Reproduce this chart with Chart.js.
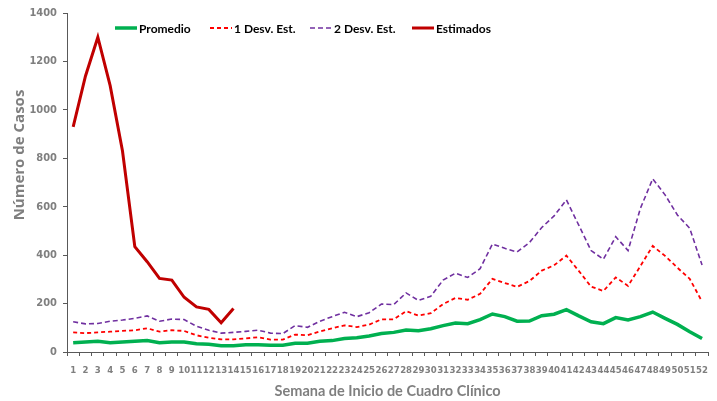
<!DOCTYPE html>
<html lang="es">

<head>
  <meta charset="UTF-8">
  <title>Casos por semana</title>
  <script src="https://cdn.jsdelivr.net/npm/chart.js"></script>
  <style>
    html, body { margin: 0; padding: 0; background: #ffffff; }
    #wrap { width: 717px; height: 401px; }
  </style>
</head>

<body>
  <div id="wrap"><canvas id="casosChart" width="717" height="401"></canvas></div>

  <script>
    // Semanas 1..52
    const semanas = ['1','2','3','4','5','6','7','8','9','10','11','12','13','14','15','16','17','18','19','20',
      '21','22','23','24','25','26','27','28','29','30','31','32','33','34','35','36','37','38','39','40',
      '41','42','43','44','45','46','47','48','49','50','51','52'];

    const promedio = [38, 41, 44, 38, 41, 44, 47, 38, 41, 41, 34, 32, 26, 26, 30, 30, 28, 28, 36, 36,
      44, 47, 56, 59, 66, 76, 81, 91, 88, 96, 109, 120, 117, 134, 157, 146, 127, 128, 150, 156,
      175, 149, 125, 117, 142, 132, 146, 165, 139, 114, 84, 56];

    const desv1 = [81, 78, 81, 84, 87, 90, 98, 84, 90, 87, 69, 59, 52, 52, 56, 61, 51, 51, 72, 69,
      85, 98, 110, 103, 113, 135, 135, 169, 150, 160, 198, 223, 216, 240, 302, 285, 269, 293, 336, 358,
      398, 335, 270, 252, 308, 273, 355, 438, 397, 348, 302, 208];

    const desv2 = [125, 116, 118, 127, 132, 139, 149, 127, 136, 134, 106, 90, 78, 81, 85, 90, 78, 76, 109, 102,
      127, 146, 164, 146, 162, 198, 196, 244, 213, 230, 297, 325, 308, 344, 446, 428, 413, 452, 514, 562,
      628, 524, 419, 383, 476, 419, 593, 715, 649, 566, 511, 359];

    const estimados = [930, 1140, 1300, 1100, 830, 435, 373, 304, 297, 226, 186, 176, 121, 180];

    const yTicks = [0, 200, 400, 600, 800, 1000, 1200, 1400];

    const grey = '#7f7f7f';
    const narrow = "'Liberation Sans Narrow', 'DejaVu Sans Condensed', sans-serif";

    // legend and y title drawn by hand, the original has them off-centre
    const legendPos = [115, 210, 310, 412];
    const extras = {
      id: 'extras',
      afterDraw(chart) {
        const ctx = chart.ctx;
        ctx.save();
        ctx.font = 'bold 12px Lato, sans-serif';
        ctx.textBaseline = 'middle';
        chart.data.datasets.forEach((ds, i) => {
          const x = legendPos[i];
          const y = 28;
          ctx.strokeStyle = ds.borderColor;
          ctx.lineWidth = ds.borderWidth;
          ctx.setLineDash(ds.borderDash || []);
          ctx.beginPath();
          ctx.moveTo(x, y);
          ctx.lineTo(x + 22, y);
          ctx.stroke();
          ctx.setLineDash([]);
          ctx.fillStyle = '#000000';
          ctx.fillText(ds.label, x + 24, y + 1);
        });

        ctx.translate(20, 155);
        ctx.rotate(-Math.PI / 2);
        ctx.font = "bold 15px 'Open Sans', sans-serif";
        ctx.textAlign = 'center';
        ctx.fillStyle = grey;
        ctx.fillText('Número de Casos', 0, 0);
        ctx.restore();
      }
    };

    const ctx = document.getElementById('casosChart').getContext('2d');
    new Chart(ctx, {
      type: 'line',
      data: {
        labels: semanas,
        datasets: [
          {
            label: 'Promedio',
            data: promedio,
            borderColor: '#00b050',
            borderWidth: 3.5
          },
          {
            label: '1 Desv. Est.',
            data: desv1,
            borderColor: '#ff0000',
            borderWidth: 1.8,
            borderDash: [4, 3]
          },
          {
            label: '2 Desv. Est.',
            data: desv2,
            borderColor: '#7030a0',
            borderWidth: 1.6,
            borderDash: [5, 3]
          },
          {
            label: 'Estimados',
            data: estimados,
            borderColor: '#c00000',
            borderWidth: 3
          }
        ]
      },
      options: {
        responsive: false,
        animation: false,
        layout: { padding: { top: 13, right: 0, bottom: 0, left: 0 } },
        elements: {
          point: { radius: 0 },
          line: { tension: 0, borderCapStyle: 'butt' }
        },
        plugins: {
          legend: { display: false },
          tooltip: { enabled: false }
        },
        scales: {
          x: {
            offset: true,
            grid: {
              offset: true,
              drawOnChartArea: false,
              drawTicks: true,
              tickLength: 4,
              color: '#595959'
            },
            border: { color: '#595959', width: 1 },
            ticks: {
              autoSkip: false,
              maxRotation: 0,
              minRotation: 0,
              padding: 9,
              color: grey,
              font: { family: narrow, size: 9.5, weight: 'bold' }
            },
            title: {
              display: true,
              text: 'Semana de Inicio de Cuadro Clínico',
              color: grey,
              font: { family: 'Lato, sans-serif', size: 14.5, weight: 'bold' },
              padding: { top: 0, bottom: 1 }
            },
            afterFit(scale) { scale.height = 49; }
          },
          y: {
            min: 0,
            max: 1400,
            afterBuildTicks(scale) { scale.ticks = yTicks.map(v => ({ value: v })); },
            grid: {
              drawOnChartArea: false,
              drawTicks: true,
              tickLength: 4,
              color: '#595959'
            },
            border: { color: '#595959', width: 1 },
            ticks: {
              padding: 6,
              color: grey,
              font: { family: narrow, size: 11, weight: 'bold' },
              callback: v => String(v)
            },
            afterFit(scale) { scale.width = 67; }
          }
        }
      },
      plugins: [extras]
    });
  </script>
</body>

</html>
